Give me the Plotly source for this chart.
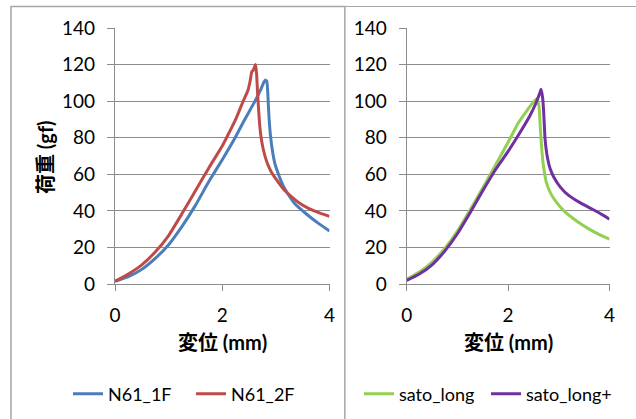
import plotly.graph_objects as go

# ---- data (displacement mm, load gf) ----
x_n61_1f = [0, 0.25, 0.5, 0.75, 1.0, 1.25, 1.5, 1.75, 2.0, 2.24, 2.42, 2.61, 2.72, 2.77, 2.80, 2.83, 2.85, 2.87, 2.90, 2.94, 2.98, 3.03, 3.08, 3.14, 3.22, 3.35, 3.58, 3.8, 4.0]
y_n61_1f = [1.5, 4, 8, 14, 21.5, 31.5, 43, 56, 68, 80, 90, 100, 106.5, 110, 111.5, 111, 104, 92, 81, 72, 66, 61.5, 57.5, 53.5, 49.5, 44, 38, 33, 29]

x_n61_2f = [0, 0.25, 0.5, 0.75, 1.0, 1.25, 1.5, 1.75, 2.0, 2.08, 2.25, 2.39, 2.48, 2.52, 2.55, 2.58, 2.62, 2.64, 2.66, 2.69, 2.72, 2.77, 2.84, 2.92, 3.0, 3.14, 3.3, 3.45, 3.6, 3.8, 4.0]
y_n61_2f = [1.5, 5.5, 10.5, 17.5, 26.5, 38.5, 51, 63.5, 75.5, 80, 90, 100, 106, 111, 116, 117, 120, 115, 104, 90, 81, 73, 66, 61, 57.5, 52, 47.5, 44, 41.5, 39, 37]

x_sato_long = [0, 0.25, 0.5, 0.75, 1.0, 1.25, 1.5, 1.75, 2.0, 2.2, 2.35, 2.5, 2.57, 2.61, 2.63, 2.66, 2.70, 2.76, 2.85, 2.96, 3.1, 3.35, 3.6, 3.8, 4.0]
y_sato_long = [2.5, 6.5, 12, 19.5, 29, 40.5, 52.5, 65, 77.5, 88, 94, 99.5, 101.5, 97, 88, 75, 64, 55, 49, 44.5, 40, 34.5, 30, 27, 24.5]

x_sato_long_p = [0, 0.25, 0.5, 0.75, 1.0, 1.25, 1.5, 1.75, 2.0, 2.25, 2.43, 2.55, 2.62, 2.65, 2.68, 2.70, 2.73, 2.78, 2.83, 2.9, 3.03, 3.2, 3.4, 3.6, 3.8, 4.0]
y_sato_long_p = [2, 5.5, 10.5, 18, 27.5, 39, 51, 62.5, 72.5, 83.5, 92, 99, 104, 106.5, 102, 95, 79, 68.5, 63, 58.5, 53, 48.3, 44.8, 41.8, 38.8, 35.5]

x_ticks = [0, 2, 4]
y_ticks = [0, 20, 40, 60, 80, 100, 120, 140]

W, H = 636, 419
FONT = "Lato, 'Noto Sans CJK JP', sans-serif"
GRID = "#8c8c8c"

fig = go.Figure()

def add(x, y, name, color, xa, ya, leg):
    fig.add_trace(go.Scatter(
        x=x, y=y, name=name, mode="lines", xaxis=xa, yaxis=ya, legend=leg,
        line=dict(color=color, width=3, shape="spline", smoothing=0.4),
    ))

add(x_n61_1f, y_n61_1f, "N61_1F", "#4A7EBB", "x", "y", "legend")
add(x_n61_2f, y_n61_2f, "N61_2F", "#BE4B48", "x", "y", "legend")
add(x_sato_long, y_sato_long, "sato_long", "#92D050", "x2", "y2", "legend2")
add(x_sato_long_p, y_sato_long_p, "sato_long+", "#7030A0", "x2", "y2", "legend2")

ydom = [1 - 284 / H, 1 - 28 / H]

xaxis_common = dict(
    range=[0, 4], tickvals=x_ticks, showgrid=False, zeroline=False, automargin=False,
    showline=True, linecolor=GRID, linewidth=1.2,
    ticks="outside", ticklen=6, tickcolor=GRID, tickwidth=1.2,
    tickfont=dict(family=FONT, size=19, color="#000"), ticklabelstandoff=8,
)
yaxis_common = dict(
    range=[0, 140], tickvals=y_ticks, showgrid=True, gridcolor=GRID, gridwidth=1.2,
    zeroline=False, showline=True, linecolor=GRID, linewidth=1.2, automargin=False,
    ticks="outside", ticklen=7, tickcolor=GRID, tickwidth=1.2,
    tickfont=dict(family=FONT, size=19, color="#000"), ticklabelstandoff=8,
)

fig.update_layout(
    width=W, height=H, margin=dict(l=0, r=0, t=0, b=0, autoexpand=False),
    paper_bgcolor="white", plot_bgcolor="white",
    xaxis=dict(domain=[115 / W, 329.5 / W], anchor="y", **xaxis_common),
    yaxis=dict(domain=ydom, anchor="x", **yaxis_common),
    xaxis2=dict(domain=[406.7 / W, 609.5 / W], anchor="y2", **xaxis_common),
    yaxis2=dict(domain=ydom, anchor="x2", **yaxis_common),
    legend=dict(orientation="h", x=68 / W, y=1 - 394 / H, xanchor="left", yanchor="middle",
                font=dict(family=FONT, size=18, color="#000"), entrywidth=78,
                bgcolor="rgba(0,0,0,0)"),
    legend2=dict(orientation="h", x=359 / W, y=1 - 394 / H, xanchor="left", yanchor="middle",
                 font=dict(family=FONT, size=18, color="#000"), entrywidth=82,
                 bgcolor="rgba(0,0,0,0)"),
    shapes=[
        dict(type="rect", xref="paper", yref="paper", x0=11 / W, x1=345 / W, y0=-0.1, y1=1 - 6.5 / H,
             line=dict(color="#a6a6a6", width=1.5), layer="below"),
        dict(type="rect", xref="paper", yref="paper", x0=345 / W, x1=1.1, y0=-0.1, y1=1 - 6.5 / H,
             line=dict(color="#a6a6a6", width=1.2), fillcolor="white", layer="below"),
    ],
    annotations=[
        dict(text="<b>荷重 (gf)</b>", xref="paper", yref="paper", x=45 / W, y=1 - 157 / H,
             showarrow=False, textangle=-90, xanchor="center", yanchor="middle",
             font=dict(family=FONT, size=20, color="#000")),
        dict(text="<b>変位 (mm)</b>", xref="paper", yref="paper", x=222 / W, y=1 - 342 / H,
             showarrow=False, xanchor="center", yanchor="middle",
             font=dict(family=FONT, size=20, color="#000")),
        dict(text="<b>変位 (mm)</b>", xref="paper", yref="paper", x=508 / W, y=1 - 342 / H,
             showarrow=False, xanchor="center", yanchor="middle",
             font=dict(family=FONT, size=20, color="#000")),
    ],
)

fig.write_html("out.html")
